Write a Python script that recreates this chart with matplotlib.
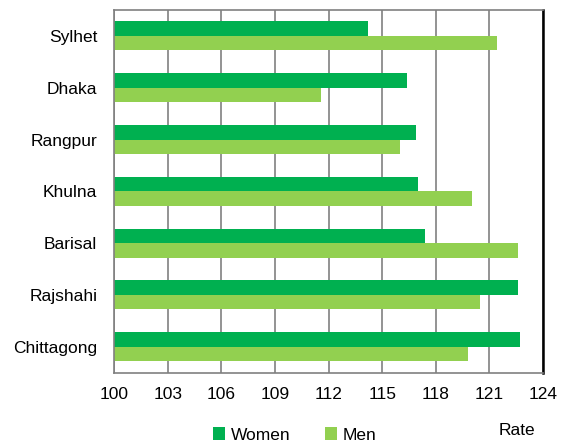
import matplotlib.pyplot as plt
import numpy as np

plt.rcParams["font.family"] = ["Liberation Sans", "DejaVu Sans"]

regions = ["Sylhet", "Dhaka", "Rangpur", "Khulna", "Barisal", "Rajshahi", "Chittagong"]
women = [114.2, 116.4, 116.9, 117.0, 117.4, 122.6, 122.7]
men = [121.4, 111.6, 116.0, 120.0, 122.6, 120.5, 119.8]
ticks = [100, 103, 106, 109, 112, 115, 118, 121, 124]

fig = plt.figure(figsize=(5.61, 4.43), dpi=100)
ax = fig.add_axes([0.2032, 0.1587, 0.7648, 0.8187])

y = np.arange(len(regions))[::-1]
h = 0.28
ax.barh(y + h / 2, np.array(women) - 100, left=100, height=h, color="#00B050", label="Women")
ax.barh(y - h / 2, np.array(men) - 100, left=100, height=h, color="#92D050", label="Men")

ax.set_xlim(100, 124)
ax.set_ylim(-0.5, len(regions) - 0.5)
ax.set_xticks(ticks)
ax.set_xticklabels([str(t) for t in ticks], fontsize=12.5)
ax.set_yticks(y)
ax.set_yticklabels(regions, fontsize=12.5)
ax.tick_params(axis="y", length=0, pad=12)
ax.tick_params(axis="x", length=0, pad=10)

ax.grid(axis="x", color="#808080", linewidth=1.2)
ax.set_axisbelow(True)
for s in ["left", "top", "bottom"]:
    ax.spines[s].set_color("#808080")
    ax.spines[s].set_linewidth(1.2)
ax.spines["right"].set_color("black")
ax.spines["right"].set_linewidth(1.8)

fig.legend(loc="center", bbox_to_anchor=(0.525, 0.018), ncol=2, frameon=False,
           fontsize=12.5, handlelength=0.7, handleheight=0.7, handletextpad=0.3,
           columnspacing=2.0)
fig.text(0.922, 0.029, "Rate", fontsize=12.5, ha="center", va="center")

fig.savefig("out.png", dpi=100)
